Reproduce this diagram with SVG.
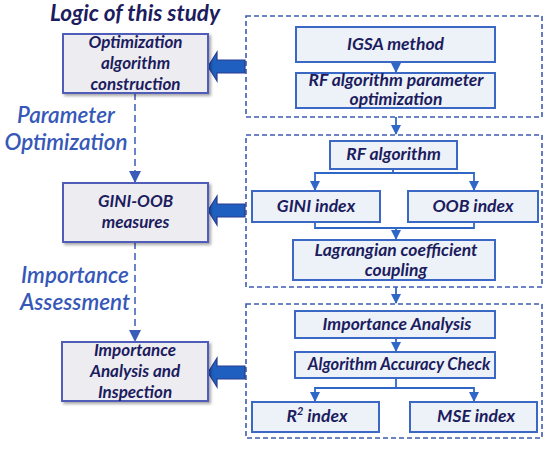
<svg xmlns="http://www.w3.org/2000/svg" width="550" height="451" viewBox="0 0 550 451">
<defs>
<style>
.lb{fill:#ededf1;stroke:#4f5db8;stroke-width:2}
.rb{fill:#edf2f8;stroke:#3a68c4;stroke-width:2}
.cont{fill:none;stroke:#3d5cb0;stroke-width:1.6;stroke-dasharray:5,3}
.t{font-family:Lato,"Liberation Sans",sans-serif;font-weight:bold;font-style:italic;fill:#1c1c5e;font-size:17.5px;text-anchor:middle}
.lt{font-size:17px}
.lab{font-family:Lato,"Liberation Sans",sans-serif;font-weight:600;font-style:italic;fill:#3658b8;font-size:22.5px;text-anchor:middle}
.con{fill:none;stroke:#2f67c6;stroke-width:1.8}
.dash{fill:none;stroke:#3a5cb8;stroke-width:1.5;stroke-dasharray:7,4}
.big{fill:#1f5fc0;stroke:#2a3d8f;stroke-width:1.2}
</style>
<marker id="ah" markerWidth="10" markerHeight="10" refX="9" refY="5" orient="auto" markerUnits="userSpaceOnUse">
<path d="M0,0 L10,5 L0,10 Z" fill="#2f67c6"/>
</marker>
<marker id="ah2" markerWidth="12" markerHeight="12" refX="11" refY="6" orient="auto" markerUnits="userSpaceOnUse">
<path d="M0,0 L12,6 L0,12 Z" fill="#3a5cb8"/>
</marker>
<filter id="sh" x="-10%" y="-10%" width="130%" height="130%">
<feDropShadow dx="2" dy="2" stdDeviation="1.5" flood-color="#000" flood-opacity="0.35"/>
</filter>
</defs>
<rect width="550" height="451" fill="#ffffff"/>

<text x="135" y="21" class="t" style="font-size:22.5px">Logic of this study</text>

<g id="containers">
<rect class="cont" x="246" y="16" width="296" height="101"/>
<rect class="cont" x="246" y="135" width="296" height="152"/>
<rect class="cont" x="246" y="304" width="296" height="134"/>
</g>

<g id="labels">
<text class="lab" x="66" y="123">Parameter</text>
<text class="lab" x="66" y="150">Optimization</text>
<text class="lab" x="75" y="283">Importance</text>
<text class="lab" x="75" y="310">Assessment</text>
</g>

<g id="connectors">
<path class="dash" d="M135,93 V182" marker-end="url(#ah2)"/>
<path class="dash" d="M135,242 V341" marker-end="url(#ah2)"/>
<path class="con" d="M396,62 V72" marker-end="url(#ah)"/>
<path class="con" d="M396,117 V134" marker-end="url(#ah)"/>
<path class="con" d="M393,169 V173 H315 V190" marker-end="url(#ah)"/>
<path class="con" d="M393,173 H474 V190" marker-end="url(#ah)"/>
<path class="con" d="M315,222 V228 H474 V222"/>
<path class="con" d="M396,228 V239" marker-end="url(#ah)"/>
<path class="con" d="M396,287 V303" marker-end="url(#ah)"/>
<path class="con" d="M396,338 V351" marker-end="url(#ah)"/>
<path class="con" d="M396,378 V388 H315 V401" marker-end="url(#ah)"/>
<path class="con" d="M396,388 H474 V401" marker-end="url(#ah)"/>
<path class="big" d="M245,60 H217 V52 L208,66.5 L217,81 V73 H245 Z"/>
<path class="big" d="M245,204 H217 V196 L208,210.5 L217,225 V217 H245 Z"/>
<path class="big" d="M245,366 H217 V358 L208,372.5 L217,387 V379 H245 Z"/>
</g>

<g id="opt-construction">
<rect class="lb" x="63" y="34" width="145" height="59" filter="url(#sh)"/>
<text class="t lt" x="135.5" y="48">Optimization</text>
<text class="t lt" x="135.5" y="69">algorithm</text>
<text class="t lt" x="135.5" y="90">construction</text>
</g>
<g id="gini-oob">
<rect class="lb" x="63" y="183" width="145" height="59" filter="url(#sh)"/>
<text class="t lt" x="135.5" y="207">GINI-OOB</text>
<text class="t lt" x="135.5" y="228">measures</text>
</g>
<g id="importance-inspection">
<rect class="lb" x="62" y="342" width="146" height="59" filter="url(#sh)"/>
<text class="t lt" x="135" y="356">Importance</text>
<text class="t lt" x="135" y="377">Analysis and</text>
<text class="t lt" x="135" y="398">Inspection</text>
</g>

<g id="igsa">
<rect class="rb" x="296" y="27" width="199" height="35"/>
<text class="t" x="395.5" y="50">IGSA method</text>
</g>
<g id="rf-param">
<rect class="rb" x="296" y="73" width="199" height="35"/>
<text class="t" x="396" y="86">RF algorithm parameter</text>
<text class="t" x="396" y="105">optimization</text>
</g>
<g id="rf-algorithm">
<rect class="rb" x="330" y="141" width="127" height="28"/>
<text class="t" x="393.5" y="160">RF algorithm</text>
</g>
<g id="gini-index">
<rect class="rb" x="252" y="191" width="128" height="31"/>
<text class="t" x="316" y="212">GINI index</text>
</g>
<g id="oob-index">
<rect class="rb" x="408" y="191" width="130" height="31"/>
<text class="t" x="473" y="212">OOB index</text>
</g>
<g id="lagrangian">
<rect class="rb" x="293" y="240" width="202" height="40"/>
<text class="t" x="396" y="256">Lagrangian coefficient</text>
<text class="t" x="396" y="276">coupling</text>
</g>
<g id="importance-analysis">
<rect class="rb" x="295" y="311" width="200" height="27"/>
<text class="t" x="397" y="330">Importance Analysis</text>
</g>
<g id="accuracy-check">
<rect class="rb" x="295" y="352" width="200" height="26"/>
<text class="t" x="399" y="370" style="font-size:16.5px">Algorithm Accuracy Check</text>
</g>
<g id="r2-index">
<rect class="rb" x="252" y="402" width="127" height="30"/>
<text class="t" x="317" y="422">R<tspan dy="-7" style="font-size:11px">2</tspan><tspan dy="7"> index</tspan></text>
</g>
<g id="mse-index">
<rect class="rb" x="410" y="402" width="127" height="30"/>
<text class="t" x="476" y="422">MSE index</text>
</g>
</svg>
